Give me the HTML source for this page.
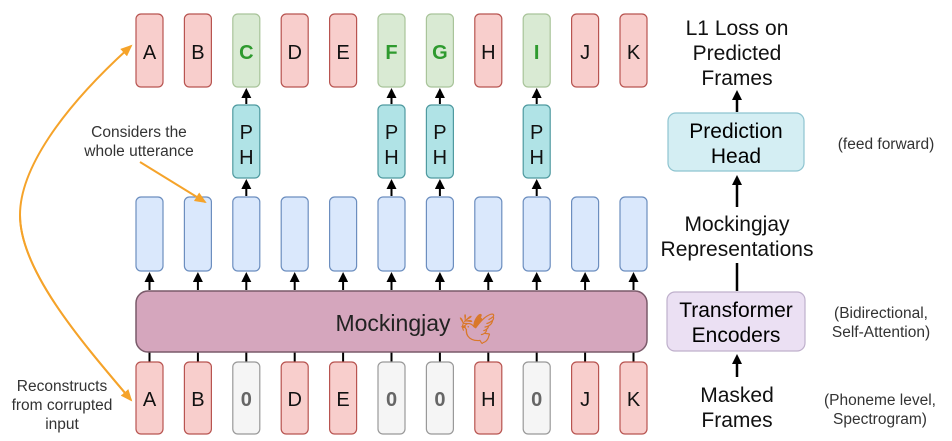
<!DOCTYPE html>
<html><head><meta charset="utf-8"><style>
body{margin:0;background:#fff;}
svg{display:block;font-family:"Liberation Sans",sans-serif;}
</style></head><body>
<svg width="952" height="441" viewBox="0 0 952 441" xmlns="http://www.w3.org/2000/svg">
<defs>
<marker id="ah" markerWidth="10" markerHeight="10" refX="5" refY="5" orient="auto" markerUnits="userSpaceOnUse"><path d="M0,0 L10,5 L0,10 z" fill="#000"/></marker>
<marker id="oh" markerWidth="12" markerHeight="10" refX="10" refY="5" orient="auto" markerUnits="userSpaceOnUse"><path d="M0,0 L12,5 L0,10 z" fill="#f5a32a"/></marker>
</defs>
<g id="cols"></g>
<rect x="136" y="291" width="511" height="61" rx="12" fill="#d5a6bd" stroke="#7a5a6a" stroke-width="1.5"/>
<text x="393" y="331" font-size="23" text-anchor="middle" fill="#222">Mockingjay</text>
<text x="458" y="339" font-size="30" fill="#d9782a">🕊</text>

<path d="M131,400 C 80,340 20,270 20,215 C 20,170 60,110 131,46" fill="none" stroke="#f5a32a" stroke-width="2" marker-end="url(#oh)"/>
<path d="M20,215 C 20,270 80,340 131,400" fill="none" stroke="#f5a32a" stroke-width="2" marker-end="url(#oh)"/>
<path d="M140,162 L205,202" stroke="#f5a32a" stroke-width="2" marker-end="url(#oh)"/>
<g font-size="15.5" text-anchor="middle" fill="#333">
<text x="139" y="137">Considers the</text>
<text x="139" y="156">whole utterance</text>
<text x="62" y="391">Reconstructs</text>
<text x="62" y="410">from corrupted</text>
<text x="62" y="429">input</text>
</g>

<g font-size="21" text-anchor="middle" fill="#111">
<text x="737" y="35">L1 Loss on</text>
<text x="737" y="60">Predicted</text>
<text x="737" y="85">Frames</text>
<text x="737" y="231">Mockingjay</text>
<text x="737" y="256">Representations</text>
<text x="737" y="402">Masked</text>
<text x="737" y="427">Frames</text>
</g>
<rect x="668" y="113" width="136" height="58" rx="8" fill="#d4eef3" stroke="#8ec4d0" stroke-width="1.2"/>
<text x="736" y="138" font-size="21" text-anchor="middle">Prediction</text>
<text x="736" y="163" font-size="21" text-anchor="middle">Head</text>
<rect x="667" y="292" width="138" height="59" rx="8" fill="#ebe0f3" stroke="#bfb0cc" stroke-width="1.2"/>
<text x="736" y="317" font-size="21" text-anchor="middle">Transformer</text>
<text x="736" y="342" font-size="21" text-anchor="middle">Encoders</text>
<line x1="737" y1="112" x2="737" y2="95" stroke="#000" stroke-width="2.5" marker-end="url(#ah)"/>
<line x1="737" y1="207" x2="737" y2="180" stroke="#000" stroke-width="2.5" marker-end="url(#ah)"/>
<line x1="737" y1="291" x2="737" y2="263" stroke="#000" stroke-width="2.5"/>
<line x1="737" y1="377" x2="737" y2="359" stroke="#000" stroke-width="2.5" marker-end="url(#ah)"/>
<g font-size="15.5" text-anchor="middle" fill="#333">
<text x="886" y="149">(feed forward)</text>
<text x="881" y="318">(Bidirectional,</text>
<text x="881" y="337">Self-Attention)</text>
<text x="880" y="405">(Phoneme level,</text>
<text x="880" y="424">Spectrogram)</text>
</g>
</svg>
<script>
(function(){
var g=document.getElementById('cols');var ns='http://www.w3.org/2000/svg';
function el(t,a,txt){var e=document.createElementNS(ns,t);for(var k in a)e.setAttribute(k,a[k]);if(txt)e.textContent=txt;g.appendChild(e);return e;}
var top=['A','B','C','D','E','F','G','H','I','J','K'];
var pred={2:1,5:1,6:1,8:1};
var bot=['A','B','0','D','E','0','0','H','0','J','K'];
for(var i=0;i<11;i++){
 var x=136+i*48.4,cx=x+13.5;
 var p=pred[i];
 el('rect',{x:x,y:14,width:27,height:73,rx:5,fill:p?'#d9ead3':'#f8cecc',stroke:p?'#a9c49a':'#b85450','stroke-width':1.2});
 el('text',{x:cx,y:59,'font-size':20,'text-anchor':'middle',fill:p?'#2e9a2e':'#111','font-weight':p?'bold':'normal'},top[i]);
 if(p){
  el('rect',{x:x,y:105,width:27,height:73,rx:5,fill:'#b0e3e6',stroke:'#4f9aa0','stroke-width':1.2});
  el('text',{x:cx,y:139,'font-size':20,'text-anchor':'middle',fill:'#111'},'P');
  el('text',{x:cx,y:164,'font-size':20,'text-anchor':'middle',fill:'#111'},'H');
  el('line',{x1:cx,y1:104,x2:cx,y2:93,stroke:'#000','stroke-width':2,'marker-end':'url(#ah)'});
  el('line',{x1:cx,y1:196,x2:cx,y2:184,stroke:'#000','stroke-width':2,'marker-end':'url(#ah)'});
 }
 el('rect',{x:x,y:197,width:27,height:74,rx:5,fill:'#dae8fc',stroke:'#6c8ebf','stroke-width':1.2});
 el('line',{x1:cx,y1:290,x2:cx,y2:277,stroke:'#000','stroke-width':2,'marker-end':'url(#ah)'});
 el('line',{x1:cx,y1:352,x2:cx,y2:362,stroke:'#000','stroke-width':2});
 var z=bot[i]=='0';
 el('rect',{x:x,y:362,width:27,height:72,rx:5,fill:z?'#f5f5f5':'#f8cecc',stroke:z?'#999':'#b85450','stroke-width':1.2});
 el('text',{x:cx,y:406,'font-size':20,'text-anchor':'middle',fill:z?'#666':'#111','font-weight':z?'bold':'normal'},bot[i]);
}
})();
</script>
</body></html>
